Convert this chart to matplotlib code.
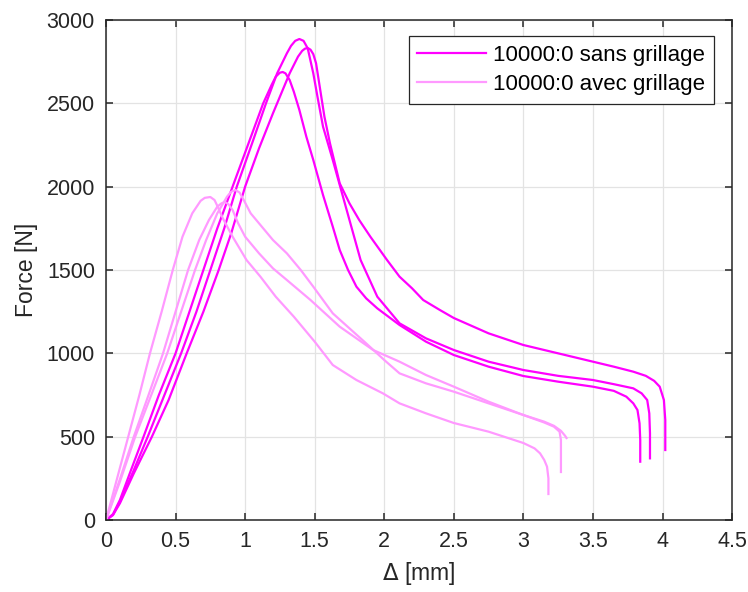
import matplotlib
matplotlib.use('Agg')
import matplotlib.pyplot as plt

plt.rcParams['font.family'] = ['Liberation Sans', 'DejaVu Sans']

# --- sans grillage (3 essais) ---
sans_a_x = [0, 0.05, 0.1, 0.15, 0.2, 0.33, 0.45, 0.58, 0.7, 0.81, 0.9, 1.0, 1.1, 1.2, 1.26, 1.32,
            1.38, 1.41, 1.43, 1.45, 1.47, 1.49, 1.51, 1.54, 1.57, 1.61, 1.68, 1.75, 1.82, 1.9, 1.96,
            2.02, 2.11, 2.2, 2.28, 2.4, 2.5, 2.75, 3.0, 3.25, 3.5, 3.65, 3.79, 3.88, 3.94, 3.98, 4.01,
            4.02, 4.02, 4.02]
sans_a_y = [0, 30, 100, 190, 280, 500, 720, 1000, 1250, 1500, 1720, 2000, 2230, 2440, 2560, 2680,
            2780, 2815, 2828, 2832, 2822, 2795, 2740, 2580, 2420, 2260, 2020, 1900, 1800, 1700, 1630,
            1560, 1460, 1390, 1320, 1260, 1212, 1120, 1050, 1000, 950, 920, 890, 865, 835, 800, 720,
            600, 500, 420]

sans_b_x = [0, 0.05, 0.1, 0.2, 0.3, 0.42, 0.54, 0.65, 0.75, 0.85, 0.94, 1.05, 1.15, 1.23, 1.3, 1.33,
            1.36, 1.39, 1.42, 1.45, 1.49, 1.52, 1.56, 1.63, 1.73, 1.83, 1.95, 2.11, 2.3, 2.5, 2.75,
            3.0, 3.25, 3.5, 3.65, 3.79, 3.85, 3.89, 3.905, 3.91, 3.91]
sans_b_y = [0, 30, 110, 300, 500, 750, 1000, 1250, 1500, 1750, 2000, 2260, 2500, 2680, 2800, 2845,
            2875, 2886, 2875, 2830, 2680, 2540, 2360, 2160, 1860, 1560, 1340, 1180, 1090, 1020, 950,
            900, 865, 840, 815, 790, 760, 720, 640, 520, 370]

sans_c_x = [0, 0.05, 0.1, 0.18, 0.27, 0.38, 0.5, 0.6, 0.7, 0.8, 0.91, 1.02, 1.13, 1.19, 1.22, 1.25,
            1.27, 1.29, 1.32, 1.35, 1.39, 1.44, 1.49, 1.56, 1.63, 1.68, 1.74, 1.8, 1.87, 1.95, 2.11,
            2.3, 2.5, 2.75, 3.0, 3.25, 3.5, 3.65, 3.74, 3.79, 3.82, 3.835, 3.84, 3.84]
sans_c_y = [0, 35, 120, 300, 500, 750, 1000, 1250, 1500, 1750, 2000, 2250, 2500, 2610, 2660, 2684,
            2688, 2680, 2640, 2570, 2460, 2300, 2160, 1950, 1760, 1620, 1500, 1400, 1330, 1270, 1170,
            1070, 990, 920, 864, 830, 800, 775, 740, 700, 660, 580, 480, 350]

# --- avec grillage (3 essais) ---
avec_a_x = [0, 0.08, 0.16, 0.24, 0.316, 0.4, 0.48, 0.55, 0.62, 0.68, 0.71, 0.75, 0.78, 0.8, 0.84,
            0.91, 1.01, 1.11, 1.22, 1.35, 1.5, 1.63, 1.8, 1.99, 2.11, 2.3, 2.5, 2.75, 3.0, 3.08, 3.12,
            3.15, 3.17, 3.18, 3.18]
avec_a_y = [0, 250, 500, 750, 1000, 1250, 1500, 1700, 1840, 1915, 1933, 1938, 1920, 1885, 1810,
            1700, 1560, 1460, 1340, 1220, 1070, 930, 840, 760, 700, 640, 582, 530, 462, 430, 400,
            360, 320, 250, 156]

avec_b_x = [0, 0.1, 0.2, 0.31, 0.41, 0.5, 0.59, 0.67, 0.74, 0.8, 0.83, 0.855, 0.88, 0.91, 0.95, 1.0,
            1.1, 1.2, 1.3, 1.47, 1.68, 1.92, 2.11, 2.3, 2.5, 2.75, 3.0, 3.15, 3.22, 3.27, 3.3, 3.31]
avec_b_y = [0, 245, 500, 760, 1000, 1250, 1500, 1680, 1800, 1880, 1900, 1908, 1895, 1860, 1780, 1700,
            1600, 1510, 1440, 1320, 1160, 1020, 950, 870, 800, 710, 630, 590, 565, 535, 505, 492]

avec_c_x = [0, 0.1, 0.21, 0.33, 0.44, 0.54, 0.64, 0.72, 0.8, 0.87, 0.9, 0.93, 0.96, 0.99, 1.04, 1.12,
            1.2, 1.3, 1.4, 1.49, 1.63, 1.75, 1.87, 2.0, 2.11, 2.3, 2.5, 2.75, 3.0, 3.15, 3.22, 3.26,
            3.27, 3.27, 3.27]
avec_c_y = [0, 230, 500, 760, 1000, 1250, 1500, 1680, 1840, 1940, 1970, 1980, 1965, 1920, 1840, 1760,
            1680, 1600, 1500, 1400, 1240, 1150, 1060, 960, 880, 820, 770, 700, 630, 585, 560, 530,
            480, 380, 288]

labels = ['10000:0 sans grillage', '10000:0 avec grillage']
colors = ['#ff00ff', '#ff99ff']

fig = plt.figure(figsize=(7.48, 5.92), dpi=100)
ax = fig.add_axes([0.1417, 0.1216, 0.837, 0.8446])

for i, (x, y) in enumerate([(sans_a_x, sans_a_y), (sans_b_x, sans_b_y), (sans_c_x, sans_c_y)]):
    ax.plot(x, y, color=colors[0], lw=1.6, label=labels[0] if i == 0 else None)
for i, (x, y) in enumerate([(avec_a_x, avec_a_y), (avec_b_x, avec_b_y), (avec_c_x, avec_c_y)]):
    ax.plot(x, y, color=colors[1], lw=1.6, label=labels[1] if i == 0 else None)

ax.set_xlim(0, 4.5)
ax.set_ylim(0, 3000)
ax.set_xticks([0, 0.5, 1, 1.5, 2, 2.5, 3, 3.5, 4, 4.5])
ax.set_xticklabels(['0', '0.5', '1', '1.5', '2', '2.5', '3', '3.5', '4', '4.5'])
ax.set_yticks(range(0, 3001, 500))
ax.grid(True, color='#e3e3e3', lw=0.9)
ax.set_axisbelow(True)
for s in ax.spines.values():
    s.set_color('#262626')
    s.set_linewidth(1.1)
ax.tick_params(direction='in', top=True, right=True, length=5, width=1.1,
               colors='#262626', labelsize=15.5, pad=8)
ax.set_xlabel(r'$\Delta$ [mm]', fontsize=16.5, color='#262626', labelpad=6)
ax.set_ylabel('Force [N]', fontsize=16.5, color='#262626', labelpad=6)

leg = ax.legend(loc='upper right', bbox_to_anchor=(0.971, 0.968), fontsize=16,
                handlelength=3.1, fancybox=False, framealpha=1, edgecolor='#262626',
                borderaxespad=0, labelspacing=0.35, handletextpad=0.3, borderpad=0.4)
leg.get_frame().set_linewidth(0.9)

plt.savefig('out.png', dpi=100)
